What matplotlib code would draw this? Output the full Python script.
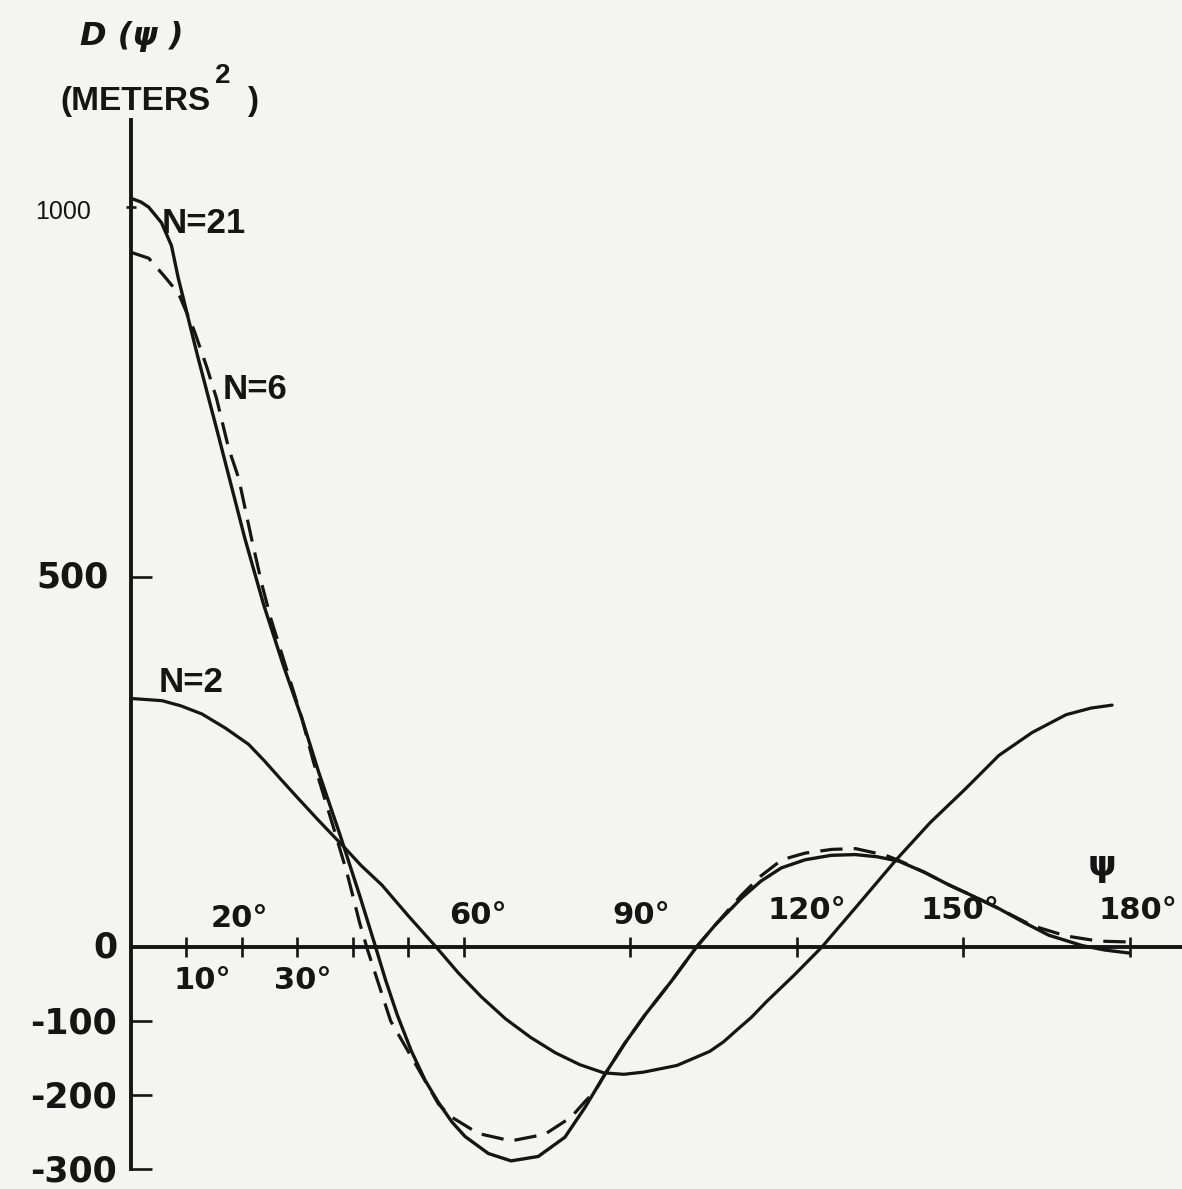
import matplotlib.pyplot as plt

# values: psi in degrees, D in meters^2
psi_n2 = [0, 5.6, 9, 12.8, 17, 21.2, 24, 27.1, 30, 33.7, 36.5, 38.3, 41.5,
          45.2, 50, 55, 59, 63.1, 67.5, 72, 76.5, 80.9, 85.2, 88.8, 92.4,
          98.4, 104.3, 106.8, 109.2, 111.8, 114.5, 119.5, 124.5, 131, 137.9,
          144, 150.4, 156.4, 162.4, 168.5, 173, 176.8]
d_n2 = [336, 333, 326, 315, 296, 274, 252, 226, 202, 172, 150, 136, 110,
        84, 42, 0, -35, -67, -97, -122, -143, -159, -170, -172, -169,
        -160, -141, -128, -112, -95, -74, -38, 0, 57, 118,
        168, 214, 259, 290, 314, 323, 327]

psi_n21 = [0, 1.8, 3.2, 5.5, 7.3, 8.5, 11.9, 15.8, 17, 20.5, 23.9, 27.4,
           30.8, 33.8, 37.7, 41.2, 43.8, 45.9, 48, 50.5, 53, 55.4, 57.8,
           60.2, 64.4, 68.5, 73.4, 78.2, 81.8, 85.4, 89, 92.6, 97.4, 101.9,
           105.3, 110, 113.5, 117.2, 121.5, 126.2, 130.5, 134.5, 138.4,
           143, 147.4, 152, 156.4, 161, 165.4, 171.4, 175.5, 179.8]
d_n21 = [1012, 1007, 1000, 979, 948, 905, 802, 690, 655, 553, 463, 382,
         309, 237, 151, 70, 7, -45, -92, -140, -180, -210, -236,
         -256, -279, -289, -283, -257, -217, -172, -130, -92, -46, 0,
         30, 66, 89, 107, 118, 124, 125, 122, 116,
         101, 84, 68, 52, 33, 16, 2, -4, -8]

psi_n6 = [0, 3.2, 6.2, 8.6, 11.4, 13.7, 15.4, 17.6, 19.4, 21.7, 23.6, 25.2,
          30.8, 32.9, 36.6, 38.9, 41.2, 42.6, 46.8, 50.5, 55.4, 57.6,
          62.6, 68.5, 74.6, 79.3, 81.8, 83.6, 85.4, 89, 92.6, 97.4, 101.9,
          105.3, 110, 113.5, 117.3, 121.5, 126.3, 130.6, 136, 138.4, 143,
          147.4, 152, 156.4, 162.4, 168.5, 174.4, 179.3]
d_n6 = [939, 931, 905, 883, 833, 783, 742, 674, 634, 553, 490, 444,
        309, 250, 159, 101, 33, -3, -100, -148, -212, -229,
        -252, -262, -253, -230, -209, -195, -172, -130, -92, -46, 0,
        30, 70, 96, 118, 127, 132, 133, 124, 117, 101,
        84, 68, 52, 29, 15, 8, 7]

x_ticks = [10, 20, 30, 40, 50, 60, 90, 120, 150, 180]
y_ticks = [-300, -200, -100, 500]

ink = '#151515'
paper = '#f4f4f2'
bold = dict(family='DejaVu Sans', weight='bold', color=ink)
letter = dict(family='Liberation Sans', weight='bold', color=ink)

fig = plt.figure(figsize=(11.82, 11.89), dpi=100, facecolor=paper)
ax = fig.add_axes([0, 0, 1, 1])
ax.set_facecolor(paper)

ax.plot(psi_n2, d_n2, color=ink, lw=2.3, solid_joinstyle='round', solid_capstyle='round')
ax.plot(psi_n21, d_n21, color=ink, lw=2.4, solid_joinstyle='round', solid_capstyle='round')
ax.plot(psi_n6, d_n6, color=ink, lw=2.3, dashes=(7, 3.5))

ax.set_xlim(-23.6, 189.4)
ax.set_ylim(-327, 1280)

for s in ['top', 'right']:
    ax.spines[s].set_visible(False)
ax.spines['left'].set_position(('data', 0))
ax.spines['bottom'].set_position(('data', 0))
ax.spines['left'].set_bounds(-300, 1118)
ax.spines['bottom'].set_bounds(0, 189.4)
for s in ['left', 'bottom']:
    ax.spines[s].set_linewidth(2.8)
    ax.spines[s].set_color(ink)

ax.set_xticks(x_ticks)
ax.set_xticklabels([])
ax.set_yticks(y_ticks)
ax.set_yticklabels([])
ax.set_yticks([1000], minor=True)
ax.tick_params(axis='x', direction='inout', length=14, width=1.9, color=ink)
ax.tick_params(axis='y', which='major', direction='in', length=15, width=1.9, color=ink)
ax.tick_params(axis='y', which='minor', direction='inout', length=7, width=1.9, color=ink)

# y labels
ax.text(-4.1, 500, '500', ha='right', va='center', fontsize=25, **bold)
ax.text(-2.5, 0, '0', ha='right', va='center', fontsize=25, **bold)
for v in [-100, -200, -300]:
    ax.text(-2.6, v - 3, str(v), ha='right', va='center', fontsize=25, **bold)
ax.text(-12.3, 993, '1000', ha='center', va='center', fontsize=18,
        family='Liberation Sans', color=ink)

# x labels, alternating above/below as in the drawing
deg_labels = {20: (19.6, 39), 10: (12.8, -45), 30: (31, -45), 60: (62.5, 43),
              90: (91.9, 43), 120: (121.8, 50), 150: (149.4, 50), 180: (181.4, 50)}
for k, (px, py) in deg_labels.items():
    ax.text(px, py, f'{k}\u00b0', ha='center', va='center', fontsize=22, **bold)
ax.text(175, 109, '\u03c8', ha='center', va='center', fontsize=26, **bold)

# curve labels
ax.text(5.6, 978, 'N=21', ha='left', va='center', fontsize=25, **letter)
ax.text(16.6, 753, 'N=6', ha='left', va='center', fontsize=25, **letter)
ax.text(4.9, 357, 'N=2', ha='left', va='center', fontsize=25, **letter)

# axis title
ax.text(0.2, 1230, 'D (\u03c8 )', ha='center', va='center', fontsize=23,
        style='italic', **bold)
ax.text(-12.8, 1131, '(METERS', ha='left', va='baseline', fontsize=24, **letter)
ax.text(15.1, 1168, '2', ha='left', va='baseline', fontsize=20, **letter)
ax.text(20.9, 1131, ')', ha='left', va='baseline', fontsize=24, **letter)

fig.savefig('out.png', dpi=100, facecolor=paper)
